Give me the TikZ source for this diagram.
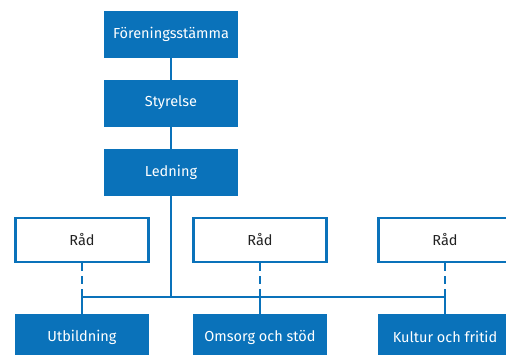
\documentclass[tikz,border=0pt]{standalone}
\usepackage{fontspec}
\setmainfont{Fira Sans}
\usetikzlibrary{positioning}
\definecolor{orgblue}{HTML}{0A72BA}
\definecolor{orgtext}{HTML}{222222}

\tikzset{
  unit/.style={draw=orgblue, fill=orgblue, text=white, line width=1pt,
    minimum width=133pt, minimum height=46pt, inner sep=0pt,
    font=\fontsize{14.5}{17}\selectfont},
  council/.style={draw=orgblue, fill=white, text=orgtext, line width=2.2pt,
    minimum width=133pt, minimum height=44pt, inner sep=0pt,
    font=\fontsize{14.5}{17}\selectfont},
  conn/.style={draw=orgblue, line width=2.2pt},
  connd/.style={conn, dash pattern=on 8pt off 5pt}
}

\begin{document}
\begin{tikzpicture}[x=1pt, y=-1pt]
\useasboundingbox (0,0) rectangle (506,354);
\clip (0,0) rectangle (506,354);
% main line
\node[unit] (fs) at (171,34) {Föreningsstämma};
\node[unit] (sty) at (171,103) {Styrelse};
\node[unit] (led) at (171,172) {Ledning};
\coordinate (bus) at (171,297);
% councils
\node[council] (rad1) at (82,240) {Råd};
\node[council] (rad2) at (260,240) {Råd};
\node[council] (rad3) at (445,240) {Råd};
% areas
\node[unit] (utb) at (82,337) {Utbildning};
\node[unit] (oms) at (260,337) {Omsorg och stöd};
\node[unit] (kul) at (445,337) {Kultur och fritid};
% connectors
\draw[conn] (fs) -- (sty);
\draw[conn] (sty) -- (led);
\draw[conn] (led) -- (bus);
\draw[conn] (utb) |- (bus) -| (kul);
\draw[conn] (oms) -- (oms |- bus);
\draw[connd] (rad1) -- (rad1 |- bus);
\draw[connd] (rad2) -- (rad2 |- bus);
\draw[connd] (rad3) -- (rad3 |- bus);
\end{tikzpicture}
\end{document}
